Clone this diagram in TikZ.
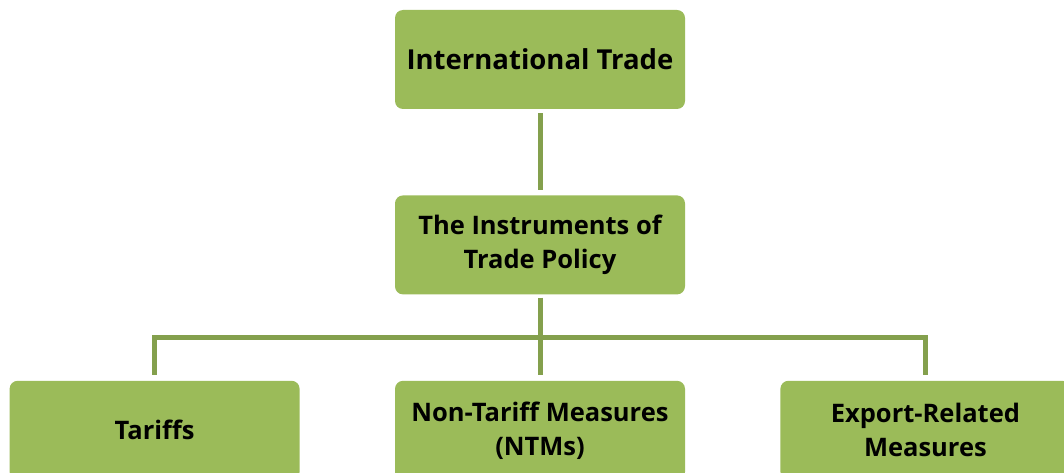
\documentclass[tikz,border=0pt]{standalone}
\usepackage{fontspec}
\setmainfont{Open Sans}
\usetikzlibrary{positioning,calc}
\definecolor{boxgreen}{HTML}{9BBB59}
\definecolor{linkgreen}{HTML}{84A04D}

\begin{document}
\begin{tikzpicture}[x=1pt,y=-1pt,
  box/.style={rectangle,rounded corners=8pt,fill=boxgreen,
    minimum width=290pt,minimum height=99pt,align=center,
    font=\bfseries\fontsize{25.5}{34}\selectfont},
  topbox/.style={box,font=\bfseries\fontsize{27.5}{34}\selectfont},
  link/.style={draw=linkgreen,line width=5pt}]
\useasboundingbox (0,0) rectangle (1064,473);
\node[topbox] (trade) at (540,59.5) {International Trade};
\node[box,below=86pt of trade] (policy) {The Instruments of\\Trade Policy};
\node[box,below=86pt of policy] (ntm) {Non-Tariff Measures\\(NTMs)};
\node[box,left=95pt of ntm] (tariffs) {Tariffs};
\node[box,right=95pt of ntm] (export) {Export-Related\\Measures};
% connectors
\draw[link,shorten <=4pt,shorten >=5pt] (trade) -- (policy);
\draw[link,shorten <=3pt,shorten >=6pt] (policy) -- (ntm);
\coordinate (bus) at ($(policy.south)!0.5!(ntm.north)$);
\draw[link,shorten <=6pt,shorten >=6pt] (tariffs.north) |- (bus) -| (export.north);
\end{tikzpicture}
\end{document}
